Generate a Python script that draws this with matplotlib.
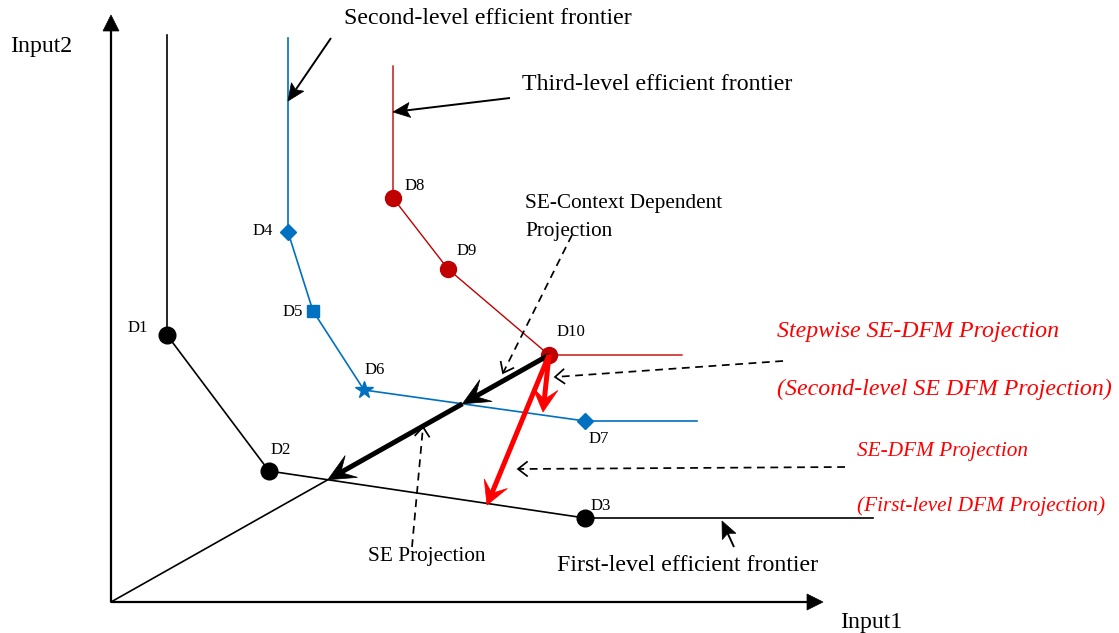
import matplotlib
matplotlib.use("Agg")
import matplotlib.pyplot as plt
from matplotlib.patches import Polygon
import numpy as np

plt.rcParams['font.family'] = ['Liberation Serif', 'DejaVu Serif']

# ---------------- data (Input1, Input2 units) ----------------
first_names = ['D1', 'D2', 'D3']
first_x = [56, 158, 474]
first_y = [267, 131, 84]
first_top, first_right = 567, 762

second_names = ['D4', 'D5', 'D6', 'D7']
second_x = [177, 202, 253, 474]
second_y = [370, 291, 212, 181]
second_top, second_right = 564, 586

third_names = ['D8', 'D9', 'D10']
third_x = [282, 337, 438]
third_y = [404, 333, 247]
third_top, third_right = 536, 571

# targets of the stepwise SE-DFM projections of D10
red_target_x = [432, 376]
red_target_y = [190, 97]

# ---------------- layout ----------------
W, H = 1119, 633
OX, OY = 111, 602
fig = plt.figure(figsize=(W / 100, H / 100), dpi=100)
ax = fig.add_axes([0, 0, 1, 1])
ax.set_xlim(-OX, W - OX)
ax.set_ylim(OY - H, OY)
ax.axis('off')


def P(px, py):
    return (px - OX, OY - py)


BLUE = '#0070C0'
DRED = '#C00000'
RED = '#FF0000'


def stealth(p0, p1, lw, color='black', L=20, w=10, notch=0.35, z=3):
    """line p0->p1 with a swept-back (stealth) filled head at p1 (units = px)."""
    p0, p1 = np.asarray(p0, float), np.asarray(p1, float)
    u = (p1 - p0) / np.hypot(*(p1 - p0))
    n = np.array([-u[1], u[0]])
    back = p1 - L * u
    inner = p1 - L * (1 - notch) * u
    ax.plot([p0[0], inner[0]], [p0[1], inner[1]], color=color, lw=lw,
            solid_capstyle='butt', zorder=z)
    poly = Polygon([p1, back + w * n, inner, back - w * n], closed=True,
                   facecolor=color, edgecolor=color, lw=0.5, zorder=z)
    ax.add_patch(poly)


def dashed_open(p0, p1, lw=1.25, L=9, w=7, z=3):
    p0, p1 = np.asarray(p0, float), np.asarray(p1, float)
    u = (p1 - p0) / np.hypot(*(p1 - p0))
    n = np.array([-u[1], u[0]])
    ax.plot([p0[0], p1[0]], [p0[1], p1[1]], color='black', lw=lw,
            linestyle=(0, (4.5, 3.2)), zorder=z)
    back = p1 - L * u
    a, b = back + w * n, back - w * n
    ax.plot([a[0], p1[0], b[0]], [a[1], p1[1], b[1]], color='black', lw=lw,
            solid_joinstyle='miter', zorder=z)


# axes arrows
stealth(P(111, 602), P(111, 15), 1.6, L=16, w=8, notch=0.0)
stealth(P(111, 602), P(823, 602), 1.6, L=16, w=8, notch=0.0)


def frontier(xs, ys, top, right, color, lw):
    fx = [xs[0]] + list(xs) + [right]
    fy = [top] + list(ys) + [ys[-1]]
    ax.plot(fx, fy, color=color, lw=lw, zorder=2, solid_joinstyle='miter')


frontier(first_x, first_y, first_top, first_right, 'black', 1.2)
frontier(second_x, second_y, second_top, second_right, BLUE, 1.2)
frontier(third_x, third_y, third_top, third_right, DRED, 1.0)

ax.plot(first_x, first_y, 'o', color='black', ms=12, zorder=4)
ax.plot(third_x, third_y, 'o', color=DRED, ms=11.5, zorder=4)
ax.plot([second_x[0], second_x[3]], [second_y[0], second_y[3]], 'D', color=BLUE, ms=8, zorder=4)
ax.plot([second_x[1]], [second_y[1]], 's', color=BLUE, ms=8, zorder=4)
ax.plot([second_x[2]], [second_y[2]], '*', color=BLUE, ms=13, zorder=4)


def intersect(p, q, a, b):
    p, q, a, b = map(np.asarray, (p, q, a, b))
    d1, d2 = q - p, b - a
    m = np.array([d1, -d2]).T
    t, _ = np.linalg.solve(m, a - p)
    return p + t * d1


d10 = (third_x[2], third_y[2])
hit1 = intersect((0, 0), d10, (first_x[1], first_y[1]), (first_x[2], first_y[2]))
hit2 = intersect((0, 0), d10, (second_x[2], second_y[2]), (second_x[3], second_y[3]))

# ray from origin
ax.plot([0, hit1[0]], [0, hit1[1]], color='black', lw=1.2, zorder=2)
# SE projection (thick black)
stealth(d10, hit2, 3.6, L=27, w=12.5, notch=0.45, z=5)
stealth(hit2, hit1, 3.6, L=27, w=12.5, notch=0.45, z=5)
# SE-DFM projections (red)
for tx, ty in zip(red_target_x, red_target_y):
    stealth(d10, (tx, ty), 3.6, color=RED, L=23, w=12.5, notch=0.45, z=5)

# dashed pointers
for a0, a1 in [((572, 235), (503, 373)), ((783, 361), (555, 377)),
               ((845, 467), (518, 469)), ((412, 547), (423, 427))]:
    dashed_open(P(*a0), P(*a1))

# solid pointers
for a0, a1 in [((331, 38), (288, 101)), ((510, 98), (393, 112)), ((734, 547), (722, 521))]:
    stealth(P(*a0), P(*a1), 1.4, L=17, w=7.5, notch=0.2)

# texts
big, mid, small = 17.2, 15.3, 12.1
texts = [
    ('Input2', 10, 52, big, 'black', 'normal'),
    ('Second-level efficient frontier', 344, 24, big, 'black', 'normal'),
    ('Third-level efficient frontier', 522, 90, big, 'black', 'normal'),
    ('SE-Context Dependent', 525, 208, mid, 'black', 'normal'),
    ('Projection', 525, 236, mid, 'black', 'normal'),
    ('Stepwise SE-DFM Projection', 777, 337, big, RED, 'italic'),
    ('(Second-level SE DFM Projection)', 777, 395, big, RED, 'italic'),
    ('SE-DFM Projection', 857, 456, mid, RED, 'italic'),
    ('(First-level DFM Projection)', 857, 511, mid, RED, 'italic'),
    ('SE Projection', 368, 561, mid, 'black', 'normal'),
    ('First-level efficient frontier', 557, 571, big, 'black', 'normal'),
    ('Input1', 840, 628, big, 'black', 'normal'),
    ('D1', 128, 332, small, 'black', 'normal'),
    ('D2', 271, 454, small, 'black', 'normal'),
    ('D3', 591, 510, small, 'black', 'normal'),
    ('D4', 253, 235, small, 'black', 'normal'),
    ('D5', 283, 316, small, 'black', 'normal'),
    ('D6', 365, 374, small, 'black', 'normal'),
    ('D7', 589, 443, small, 'black', 'normal'),
    ('D8', 405, 190, small, 'black', 'normal'),
    ('D9', 457, 255, small, 'black', 'normal'),
    ('D10', 557, 336, small, 'black', 'normal'),
]
for s, px, py, fs, c, st in texts:
    x, y = P(px, py)
    ax.text(x, y, s, fontsize=fs, color=c, style=st, ha='left', va='baseline', zorder=6)

fig.savefig('out.png', dpi=100, facecolor='white')
